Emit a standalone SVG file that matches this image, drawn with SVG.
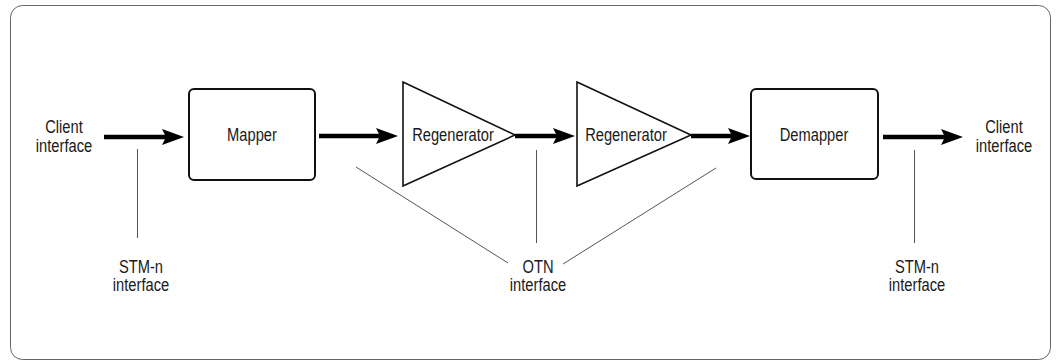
<svg xmlns="http://www.w3.org/2000/svg" width="1058" height="364" viewBox="0 0 1058 364">
  <style>
    .lbl { font-family: "Liberation Sans", Arial, sans-serif; font-size: 17.5px; fill: #1a1a1a; text-anchor: middle; }
    .box { fill: #fff; stroke: #111; stroke-width: 2; }
    .tri { fill: #fff; stroke: #111; stroke-width: 1.6; stroke-linejoin: miter; }
    .flow { stroke: #000; stroke-width: 4.5; fill: none; marker-end: url(#head); }
    .lead { stroke: #555; stroke-width: 1; fill: none; }
  </style>
  <defs>
    <marker id="head" markerUnits="userSpaceOnUse" viewBox="0 0 22 16" refX="4" refY="8" markerWidth="22" markerHeight="16" orient="auto">
      <path d="M0,0 L22,8 L0,16 L4,8 Z" fill="#000"/>
    </marker>
  </defs>

  <!-- outer frame -->
  <rect x="10.5" y="5.5" width="1040" height="354" rx="12" fill="#fff" stroke="#666" stroke-width="1"/>

  <!-- connectors -->
  <g id="connectors">
    <line class="flow" x1="104" y1="137" x2="166" y2="137"/>
    <line class="flow" x1="319" y1="136" x2="380" y2="136"/>
    <line class="flow" x1="515" y1="136" x2="557" y2="136"/>
    <line class="flow" x1="691" y1="136" x2="732" y2="136"/>
    <line class="flow" x1="883" y1="137" x2="945" y2="137"/>
    <!-- interface leader lines -->
    <line class="lead" x1="137.5" y1="149" x2="137.5" y2="238"/>
    <line class="lead" x1="356" y1="167" x2="508" y2="263"/>
    <line class="lead" x1="536.5" y1="150" x2="536.5" y2="243"/>
    <line class="lead" x1="563" y1="264" x2="716" y2="168"/>
    <line class="lead" x1="914.5" y1="150" x2="914.5" y2="243"/>
  </g>

  <!-- labels use a condensed horizontal scale -->
  <g id="mapper">
    <rect class="box" x="189" y="89" width="126" height="91" rx="5"/>
    <text class="lbl" transform="translate(252 141) scale(0.84 1)">Mapper</text>
  </g>
  <g id="regenerator1">
    <polygon class="tri" points="403,82 515,135 403,186"/>
    <text class="lbl" transform="translate(453 141) scale(0.84 1)">Regenerator</text>
  </g>
  <g id="regenerator2">
    <polygon class="tri" points="577,82 691,135 577,186"/>
    <text class="lbl" transform="translate(626 141) scale(0.84 1)">Regenerator</text>
  </g>
  <g id="demapper">
    <rect class="box" x="751" y="89" width="127" height="90" rx="5"/>
    <text class="lbl" transform="translate(814 141) scale(0.84 1)">Demapper</text>
  </g>

  <g id="client-in">
    <text class="lbl" transform="translate(64 133) scale(0.84 1)">Client</text>
    <text class="lbl" transform="translate(64 152) scale(0.84 1)">interface</text>
  </g>
  <g id="client-out">
    <text class="lbl" transform="translate(1004 133) scale(0.84 1)">Client</text>
    <text class="lbl" transform="translate(1004 152) scale(0.84 1)">interface</text>
  </g>
  <g id="stm-in">
    <text class="lbl" transform="translate(141 273) scale(0.84 1)">STM-n</text>
    <text class="lbl" transform="translate(141 291) scale(0.84 1)">interface</text>
  </g>
  <g id="otn">
    <text class="lbl" transform="translate(538 273) scale(0.84 1)">OTN</text>
    <text class="lbl" transform="translate(538 291) scale(0.84 1)">interface</text>
  </g>
  <g id="stm-out">
    <text class="lbl" transform="translate(917 273) scale(0.84 1)">STM-n</text>
    <text class="lbl" transform="translate(917 291) scale(0.84 1)">interface</text>
  </g>
</svg>
